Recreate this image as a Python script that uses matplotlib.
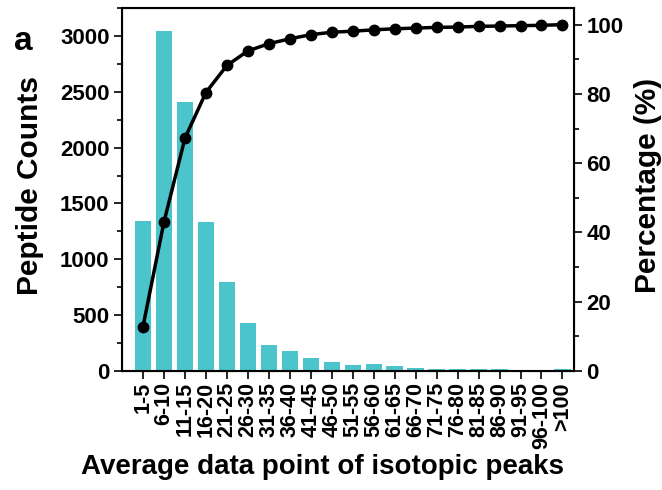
import matplotlib.pyplot as plt
from matplotlib.ticker import MultipleLocator

plt.rcParams['font.family'] = ['Liberation Sans', 'DejaVu Sans']
plt.rcParams['font.weight'] = 'bold'

categories = ['1-5', '6-10', '11-15', '16-20', '21-25', '26-30', '31-35', '36-40',
              '41-45', '46-50', '51-55', '56-60', '61-65', '66-70', '71-75', '76-80',
              '81-85', '86-90', '91-95', '96-100', '>100']
counts = [1340, 3040, 2410, 1330, 800, 433, 233, 179, 119, 83, 54, 60, 48,
          24, 22, 20, 15, 14, 12, 10, 20]
percentage = [12.8, 43.0, 67.2, 80.4, 88.2, 92.4, 94.5, 95.9, 97.1, 97.8, 98.1,
              98.5, 98.8, 99.0, 99.2, 99.3, 99.5, 99.6, 99.7, 99.8, 100.0]

bar_color = '#4BC4CC'
x = list(range(len(categories)))

fig = plt.figure(figsize=(6.62, 4.9), dpi=100)
ax = fig.add_axes([122 / 662, 1 - 371 / 490, (574 - 122) / 662, (371 - 8) / 490])
ax.bar(x, counts, width=0.78, color=bar_color, zorder=1)
ax.set_xlim(-1.0, 20.55)
ax.set_ylim(0, 3250)
ax.yaxis.set_major_locator(MultipleLocator(500))
ax.yaxis.set_minor_locator(MultipleLocator(250))
ax.set_xticks(x)
ax.set_xticklabels(categories, rotation=90, fontsize=15.5, fontweight='bold')
ax.tick_params(axis='y', labelsize=16, direction='out', length=6, width=1.2, pad=3)
ax.tick_params(axis='y', which='minor', length=3.5, width=1.2)
ax.tick_params(axis='x', direction='out', length=6, width=1.2, pad=2)
for lbl in ax.get_yticklabels():
    lbl.set_fontweight('bold')
ax.set_ylabel('Peptide Counts', fontsize=21.5, fontweight='bold')
ax.yaxis.set_label_coords(-0.1726, 0.51)
ax.set_xlabel('Average data point of isotopic peaks', fontsize=20, fontweight='bold')
ax.xaxis.set_label_coords(0.4425, -0.228)
for sp in ax.spines.values():
    sp.set_linewidth(1.5)

ax2 = ax.twinx()
ax2.plot(x, percentage, color='black', linewidth=2.5, marker='o', markersize=7.5, zorder=3)
ax2.set_ylim(0, 104.8)
ax2.yaxis.set_major_locator(MultipleLocator(20))
ax2.yaxis.set_minor_locator(MultipleLocator(10))
ax2.tick_params(axis='y', labelsize=16, direction='out', length=6, width=1.2, pad=3)
ax2.tick_params(axis='y', which='minor', length=3.5, width=1.2)
for lbl in ax2.get_yticklabels():
    lbl.set_fontweight('bold')
ax2.set_ylabel('Percentage (%)', fontsize=21.5, fontweight='bold')
ax2.yaxis.set_label_coords(1.133, 0.51)

fig.text(14 / 662, 1 - 41 / 490, 'a', fontsize=24, fontweight='bold', va='center')

fig.savefig('out.png', dpi=100)
